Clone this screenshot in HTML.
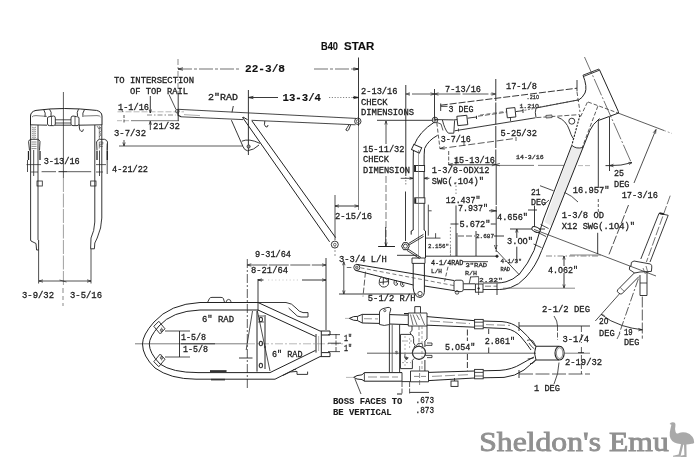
<!DOCTYPE html>
<html><head><meta charset="utf-8"><title>B40 STAR</title>
<style>
html,body{margin:0;padding:0;background:#fff;}
body{width:700px;height:459px;overflow:hidden;font-family:"Liberation Mono",monospace;}
svg{display:block;}
svg text{font-family:"Liberation Mono",monospace;}
</style></head><body>
<svg width="700" height="459" viewBox="0 0 700 459">
<defs><filter id="soft" x="0" y="0" width="700" height="459" filterUnits="userSpaceOnUse"><feGaussianBlur stdDeviation="0.38"/></filter></defs>
<rect x="0" y="0" width="700" height="459" fill="#fff"/>
<g filter="url(#soft)">
<g id="front">
<line x1="63.4" y1="92" x2="63.4" y2="178" stroke="#333" stroke-width="0.8"/>
<line x1="63.4" y1="178" x2="63.4" y2="286" stroke="#777" stroke-width="0.7" stroke-dasharray="14 1.5"/>
<line x1="63" y1="288" x2="63" y2="300" stroke="#555" stroke-width="0.7" stroke-dasharray="5 3"/>
<line x1="63" y1="303" x2="63" y2="306" stroke="#555" stroke-width="0.7"/>
<path d="M30.5,125 L30.5,116 Q30.6,111.6 36,110.4 Q63,106.6 96.5,110.4 Q101.8,111.6 102,116 L102,125" stroke="#222" stroke-width="1.0" fill="none" />
<path d="M30.5,124.8 L47,125.2 M55,125.2 L71,125.2 M79,125.2 L102,124.8" stroke="#222" stroke-width="0.9" fill="none" />
<path d="M32,117 Q33,115.5 36,115.6 L47,116.4 M84,116 L97,115.6 Q100,115.6 100.5,117" stroke="#444" stroke-width="0.7" fill="none" />
<path d="M43.7,109.6 Q46,113 45,117 M49.5,109.2 Q52,112 51,116" stroke="#222" stroke-width="0.9" fill="none" />
<path d="M84.5,109.6 Q82,113 83,117 M78.5,109.2 Q76.5,112 77.5,116" stroke="#222" stroke-width="0.9" fill="none" />
<path d="M47.5,118 Q47.5,116.6 50,116.6 L53.5,116 Q55.3,116 55.3,118 L55.3,124 Q55.3,125.6 53.5,125.6 L49.5,125.6 Q47.5,125.6 47.5,124 Z" stroke="#222" stroke-width="0.9" fill="none" />
<path d="M71,118 Q71,116 73,116 L76.5,116.6 Q79,116.6 79,118 L79,124 Q79,125.6 77,125.6 L73,125.6 Q71,125.6 71,124 Z" stroke="#222" stroke-width="0.9" fill="none" />
<line x1="51.5" y1="116.5" x2="51.5" y2="125.5" stroke="#222" stroke-width="0.7"/>
<line x1="75" y1="116.5" x2="75" y2="125.5" stroke="#222" stroke-width="0.7"/>
<line x1="55.3" y1="119.8" x2="71" y2="119.8" stroke="#222" stroke-width="0.8"/>
<line x1="55.3" y1="123" x2="71" y2="123" stroke="#222" stroke-width="0.8"/>
<path d="M79.3,124.5 Q79,130 81,131.3 Q83.2,132.2 83.4,129.3" stroke="#222" stroke-width="0.9" fill="none" />
<line x1="30.6" y1="125" x2="30.6" y2="240" stroke="#222" stroke-width="0.9"/>
<line x1="38" y1="125" x2="38" y2="240" stroke="#222" stroke-width="0.9"/>
<path d="M32,127 l2,1.2 l2,-1.2" stroke="#444" stroke-width="0.6" fill="none" />
<path d="M32,129 l2,1.2 l2,-1.2" stroke="#444" stroke-width="0.6" fill="none" />
<path d="M32,131 l2,1.2 l2,-1.2" stroke="#444" stroke-width="0.6" fill="none" />
<path d="M32,133 l2,1.2 l2,-1.2" stroke="#444" stroke-width="0.6" fill="none" />
<path d="M32,135 l2,1.2 l2,-1.2" stroke="#444" stroke-width="0.6" fill="none" />
<path d="M32,137 l2,1.2 l2,-1.2" stroke="#444" stroke-width="0.6" fill="none" />
<path d="M29.5,150.5 L28.6,141.5 Q29,139.6 31,139.3 L37.5,139.3 Q39.6,139.8 40,141.5 L39.5,150.5" stroke="#222" stroke-width="0.9" fill="none" />
<line x1="31.5" y1="142" x2="36.5" y2="142" stroke="#444" stroke-width="0.6"/>
<line x1="31.5" y1="144.2" x2="36.5" y2="144.2" stroke="#444" stroke-width="0.6"/>
<line x1="31.5" y1="146.4" x2="36.5" y2="146.4" stroke="#444" stroke-width="0.6"/>
<line x1="31.5" y1="148.6" x2="36.5" y2="148.6" stroke="#444" stroke-width="0.6"/>
<line x1="33.7" y1="150" x2="33.7" y2="176" stroke="#222" stroke-width="0.8"/>
<line x1="28.5" y1="151" x2="28.5" y2="160" stroke="#222" stroke-width="1.3"/>
<line x1="40" y1="151" x2="40" y2="160" stroke="#222" stroke-width="1.3"/>
<line x1="27.5" y1="160" x2="27.5" y2="172" stroke="#222" stroke-width="0.8"/>
<line x1="26.5" y1="164.6" x2="41" y2="164.6" stroke="#222" stroke-width="0.7"/>
<line x1="31" y1="172" x2="38" y2="172" stroke="#222" stroke-width="0.7"/>
<path d="M94.8,125 L94.8,222 Q94.4,231 91,238" stroke="#222" stroke-width="0.9" fill="none" />
<path d="M101.8,125 L101.8,218 Q101.6,228 97.2,238 L94.8,243" stroke="#222" stroke-width="0.9" fill="none" />
<path d="M97,126 l2,3 l1.5,-2 l1,4 l-2,1 l1.5,3 l-2,2" stroke="#444" stroke-width="0.6" fill="none" />
<line x1="99.3" y1="126" x2="99.3" y2="139" stroke="#444" stroke-width="0.6"/>
<path d="M97,150.5 L96.6,142 Q97.5,139.8 99.5,139.3 L104.5,139.3 Q107,140 107.5,142 L107.2,150.5" stroke="#222" stroke-width="0.9" fill="none" />
<path d="M99.3,142 h3.5 v2.2 h-3 v2.2 h3 M99.3,142 v6.5" stroke="#333" stroke-width="0.6" fill="none" />
<line x1="97" y1="151" x2="97" y2="160" stroke="#222" stroke-width="1.3"/>
<line x1="107.3" y1="151" x2="107.3" y2="160" stroke="#222" stroke-width="1.3"/>
<line x1="99.5" y1="150.5" x2="99.5" y2="176" stroke="#222" stroke-width="0.8"/>
<line x1="107.2" y1="143.6" x2="107.2" y2="174" stroke="#222" stroke-width="0.8"/>
<line x1="96" y1="164.6" x2="106" y2="164.6" stroke="#222" stroke-width="0.7"/>
<line x1="96" y1="172" x2="103" y2="172" stroke="#222" stroke-width="0.7"/>
<rect x="37" y="181" width="5.3" height="5" stroke="#222" stroke-width="0.8" fill="none"/>
<rect x="90.7" y="181" width="5.3" height="5" stroke="#222" stroke-width="0.8" fill="none"/>
<path d="M30.6,240 L31,241 L36,243.5 L36.6,250 L38.6,250 L38.6,240" stroke="#222" stroke-width="0.9" fill="none" />
<path d="M91,238 L90.6,248.8 L94.4,248.8 L94.8,243" stroke="#222" stroke-width="0.9" fill="none" />
<line x1="41.6" y1="171.7" x2="56" y2="171.7" stroke="#333" stroke-width="0.8"/>
<line x1="58.5" y1="171.7" x2="67" y2="171.7" stroke="#222" stroke-width="1.0"/>
<line x1="67" y1="171.7" x2="91.2" y2="171.7" stroke="#333" stroke-width="0.8"/>
<text x="43.7" y="163.6" font-size="8.8" textLength="36.0" lengthAdjust="spacingAndGlyphs" fill="#1c1c1c" stroke="#1c1c1c" stroke-width="0.28" >3-13/16</text>
<text x="112.0" y="172.1" font-size="8.8" textLength="36.0" lengthAdjust="spacingAndGlyphs" fill="#1c1c1c" stroke="#1c1c1c" stroke-width="0.28" >4-21/22</text>
<line x1="38.6" y1="250" x2="38.6" y2="283.5" stroke="#222" stroke-width="0.8"/>
<line x1="91" y1="249" x2="91" y2="283.5" stroke="#222" stroke-width="0.8"/>
<line x1="39" y1="281" x2="91" y2="281" stroke="#222" stroke-width="0.8"/>
<path d="M39,281 l4,-1.2 M39,281 l4,1.2 M91,281 l-4,-1.2 M91,281 l-4,1.2 M63,281 l-3.5,-1 M63,281 l3.5,1" stroke="#222" stroke-width="0.7" fill="none" />
<text x="22.0" y="298.1" font-size="8.8" textLength="32.0" lengthAdjust="spacingAndGlyphs" fill="#1c1c1c" stroke="#1c1c1c" stroke-width="0.28" >3-9/32</text>
<text x="70.0" y="298.1" font-size="8.8" textLength="32.0" lengthAdjust="spacingAndGlyphs" fill="#1c1c1c" stroke="#1c1c1c" stroke-width="0.28" >3-5/16</text>
</g>
<g id="subside">
<text x="321.0" y="49.8" font-size="10.6" textLength="17.0" lengthAdjust="spacingAndGlyphs" fill="#111" stroke="#111" stroke-width="0.12" font-weight="bold" style='font-family:"Liberation Sans", sans-serif' >B40</text>
<text x="344.0" y="49.8" font-size="10.6" textLength="30.4" lengthAdjust="spacingAndGlyphs" fill="#111" stroke="#111" stroke-width="0.12" font-weight="bold" style='font-family:"Liberation Sans", sans-serif' >STAR</text>
<text x="114.0" y="83.1" font-size="8.8" textLength="80.0" lengthAdjust="spacingAndGlyphs" fill="#1c1c1c" stroke="#1c1c1c" stroke-width="0.28" >TO INTERSECTION</text>
<text x="130.0" y="93.6" font-size="8.8" textLength="58.0" lengthAdjust="spacingAndGlyphs" fill="#1c1c1c" stroke="#1c1c1c" stroke-width="0.28" >OF TOP RAIL</text>
<text x="208.0" y="99.6" font-size="8.8" textLength="30.0" lengthAdjust="spacingAndGlyphs" fill="#1c1c1c" stroke="#1c1c1c" stroke-width="0.28" >2&quot;RAD</text>
<text x="118.0" y="110.1" font-size="8.8" textLength="31.0" lengthAdjust="spacingAndGlyphs" fill="#1c1c1c" stroke="#1c1c1c" stroke-width="0.28" >1-1/16</text>
<text x="153.0" y="128.6" font-size="8.8" textLength="27.0" lengthAdjust="spacingAndGlyphs" fill="#1c1c1c" stroke="#1c1c1c" stroke-width="0.28" >21/32</text>
<text x="114.0" y="136.1" font-size="8.8" textLength="32.0" lengthAdjust="spacingAndGlyphs" fill="#1c1c1c" stroke="#1c1c1c" stroke-width="0.28" >3-7/32</text>
<text x="245.0" y="72.3" font-size="11" textLength="40.0" lengthAdjust="spacingAndGlyphs" fill="#111" stroke="#111" stroke-width="0.12" font-weight="bold" >22-3/8</text>
<text x="282.5" y="100.8" font-size="11" textLength="38.5" lengthAdjust="spacingAndGlyphs" fill="#111" stroke="#111" stroke-width="0.12" font-weight="bold" >13-3/4</text>
<line x1="178" y1="59" x2="178" y2="93" stroke="#555" stroke-width="0.7" stroke-dasharray="6 2 2 2"/>
<line x1="178.2" y1="93" x2="178.2" y2="121" stroke="#222" stroke-width="0.9"/>
<line x1="178" y1="69" x2="241" y2="69" stroke="#333" stroke-width="0.7" stroke-dasharray="14 2 3 2"/>
<path d="M178,69 l5,-1.2 M178,69 l5,1.2" stroke="#222" stroke-width="0.8" fill="none" />
<line x1="314" y1="69" x2="358.5" y2="69" stroke="#333" stroke-width="0.7" stroke-dasharray="14 2 3 2"/>
<path d="M358.5,69 l-5,-1.2 M358.5,69 l-5,1.2" stroke="#222" stroke-width="0.8" fill="none" />
<line x1="358.5" y1="57.5" x2="358.5" y2="126" stroke="#222" stroke-width="0.9"/>
<line x1="358.5" y1="126" x2="358.5" y2="210" stroke="#666" stroke-width="0.8"/>
<line x1="248.4" y1="90" x2="248.4" y2="155" stroke="#222" stroke-width="0.9"/>
<line x1="248.4" y1="97.5" x2="278" y2="97.5" stroke="#222" stroke-width="0.9"/>
<path d="M248.4,97.5 l5,-1.2 M248.4,97.5 l5,1.2" stroke="#222" stroke-width="0.8" fill="none" />
<line x1="329" y1="97.5" x2="358.5" y2="97.5" stroke="#666" stroke-width="0.8" stroke-dasharray="1.2 1.6"/>
<path d="M358.5,97.5 l-5,-1.2 M358.5,97.5 l-5,1.2" stroke="#222" stroke-width="0.8" fill="none" />
<line x1="117.5" y1="111.8" x2="184" y2="111.8" stroke="#999" stroke-width="0.7" stroke-dasharray="6 2"/>
<line x1="147" y1="115" x2="175.5" y2="115" stroke="#555" stroke-width="0.7" stroke-dasharray="5 2 1.5 2"/>
<line x1="117" y1="120.7" x2="131" y2="120.7" stroke="#999" stroke-width="0.7" stroke-dasharray="5 2"/>
<line x1="131" y1="120.7" x2="179" y2="120.7" stroke="#555" stroke-width="0.8"/>
<line x1="150.3" y1="96" x2="150.3" y2="113" stroke="#222" stroke-width="0.9"/>
<path d="M150.3,113 l-1.2,-3.5 M150.3,113 l1.2,-3.5" stroke="#222" stroke-width="0.7" fill="none" />
<line x1="150.3" y1="121.2" x2="150.3" y2="130" stroke="#222" stroke-width="0.9"/>
<path d="M150.3,121.2 l-1.2,3.5 M150.3,121.2 l1.2,3.5" stroke="#222" stroke-width="0.7" fill="none" />
<line x1="124" y1="115" x2="124" y2="124" stroke="#222" stroke-width="0.8" stroke-dasharray="3 1.5"/>
<line x1="124" y1="140" x2="124" y2="146" stroke="#222" stroke-width="0.8"/>
<path d="M124,146 l-1.2,-3.5 M124,146 l1.2,-3.5" stroke="#222" stroke-width="0.7" fill="none" />
<line x1="119" y1="146" x2="243" y2="146" stroke="#333" stroke-width="0.8"/>
<line x1="121.5" y1="109.5" x2="123" y2="112" stroke="#222" stroke-width="0.7"/>
<line x1="169" y1="94.5" x2="176" y2="109.5" stroke="#222" stroke-width="0.8"/>
<line x1="233.3" y1="106" x2="232" y2="112.3" stroke="#222" stroke-width="0.9"/>
<path d="M178,109.3 L356,118.4" stroke="#333" stroke-width="0.9" fill="none" />
<path d="M181,116.8 L243,119.6 M251.5,120.3 L355.5,124.8" stroke="#333" stroke-width="0.9" fill="none" />
<path d="M178,109 L178,115.2 L181,116.8" stroke="#222" stroke-width="1.1" fill="none" />
<circle cx="177.3" cy="111.2" r="1.8" stroke="#333" stroke-width="0.8" fill="none"/>
<line x1="184" y1="114.6" x2="200" y2="115.6" stroke="#777" stroke-width="0.6"/>
<circle cx="357.8" cy="121.3" r="3.2" stroke="#222" stroke-width="0.9" fill="none"/>
<circle cx="357.8" cy="121.3" r="1.5" stroke="#444" stroke-width="0.8" fill="none"/>
<path d="M264.8,121 Q263.5,125.5 266,127 Q268,127.3 268,125" stroke="#222" stroke-width="0.9" fill="none" />
<path d="M349,124.8 Q347,128 345.8,130 Q347.8,131.5 348.6,130 L350.6,125" stroke="#222" stroke-width="0.9" fill="none" />
<path d="M243,117 L247.7,119.8 M242.4,117.2 L329.6,241.8 M252,121 L335.6,237.6" stroke="#222" stroke-width="1.0" fill="none" />
<circle cx="334.8" cy="244.6" r="3.5" stroke="#222" stroke-width="0.9" fill="none"/>
<circle cx="334.8" cy="244.6" r="1.3" stroke="#444" stroke-width="0.8" fill="none"/>
<path d="M231.4,120.2 L243,146.5 Q244,150 247.5,150.8 Q254,150 259,145" stroke="#222" stroke-width="0.9" fill="none" />
<path d="M241.8,141.2 Q249,138 260,143.4" stroke="#222" stroke-width="0.9" fill="none" />
<circle cx="248.6" cy="146.5" r="1.6" stroke="#333" stroke-width="0.8" fill="#888"/>
<line x1="335" y1="195" x2="335" y2="240" stroke="#222" stroke-width="0.8"/>
<line x1="335" y1="246" x2="335" y2="256" stroke="#666" stroke-width="0.7" stroke-dasharray="2 2"/>
<line x1="335" y1="206" x2="358.5" y2="206" stroke="#222" stroke-width="0.9"/>
<path d="M335,206 l4,-1.2 M335,206 l4,1.2 M358.5,206 l-4,-1.2 M358.5,206 l-4,1.2" stroke="#222" stroke-width="0.7" fill="none" />
<text x="335.0" y="218.6" font-size="8.8" textLength="37.0" lengthAdjust="spacingAndGlyphs" fill="#1c1c1c" stroke="#1c1c1c" stroke-width="0.28" >2-15/16</text>
<text x="361.0" y="93.6" font-size="8.8" textLength="36.5" lengthAdjust="spacingAndGlyphs" fill="#1c1c1c" stroke="#1c1c1c" stroke-width="0.28" >2-13/16</text>
<text x="361.0" y="104.6" font-size="8.8" textLength="26.5" lengthAdjust="spacingAndGlyphs" fill="#1c1c1c" stroke="#1c1c1c" stroke-width="0.28" >CHECK</text>
<text x="361.0" y="115.1" font-size="8.8" textLength="53.0" lengthAdjust="spacingAndGlyphs" fill="#1c1c1c" stroke="#1c1c1c" stroke-width="0.28" >DIMENSIONS</text>
<text x="363.0" y="151.6" font-size="8.8" textLength="41.5" lengthAdjust="spacingAndGlyphs" fill="#1c1c1c" stroke="#1c1c1c" stroke-width="0.28" >15-11/32</text>
<text x="363.0" y="162.1" font-size="8.8" textLength="26.0" lengthAdjust="spacingAndGlyphs" fill="#1c1c1c" stroke="#1c1c1c" stroke-width="0.28" >CHECK</text>
<text x="363.0" y="172.6" font-size="8.8" textLength="47.0" lengthAdjust="spacingAndGlyphs" fill="#1c1c1c" stroke="#1c1c1c" stroke-width="0.28" >DIMENSION</text>
<line x1="353" y1="69" x2="358.5" y2="69" stroke="#222" stroke-width="1.0"/>
<line x1="353" y1="97.5" x2="358.5" y2="97.5" stroke="#222" stroke-width="1.0"/>
<line x1="377" y1="120.3" x2="432" y2="120.3" stroke="#222" stroke-width="0.9"/>
<line x1="386" y1="121" x2="386" y2="144" stroke="#222" stroke-width="0.8"/>
<path d="M386,121 l-1.2,3.5 M386,121 l1.2,3.5" stroke="#222" stroke-width="0.7" fill="none" />
<line x1="386" y1="176" x2="386" y2="246" stroke="#444" stroke-width="0.7" stroke-dasharray="7 2"/>
<path d="M386,246 l-1.2,-3.5 M386,246 l1.2,-3.5" stroke="#222" stroke-width="0.7" fill="none" />
<line x1="378" y1="246.5" x2="395" y2="246.5" stroke="#222" stroke-width="0.9"/>
</g>
<g id="main">
<line x1="405.8" y1="85" x2="405.8" y2="176" stroke="#222" stroke-width="0.9"/>
<line x1="405.8" y1="177" x2="405.8" y2="186" stroke="#666" stroke-width="0.8" stroke-dasharray="1.5 1.5"/>
<line x1="405.5" y1="191.5" x2="405.5" y2="241" stroke="#222" stroke-width="0.9"/>
<line x1="408" y1="94" x2="410" y2="94" stroke="#333" stroke-width="0.8"/>
<line x1="412" y1="94" x2="434.5" y2="94" stroke="#333" stroke-width="0.8"/>
<path d="M405.8,94 l4,-1.2 M405.8,94 l4,1.2 M434.5,94 l-4,-1.2 M434.5,94 l-4,1.2" stroke="#222" stroke-width="0.7" fill="none" />
<line x1="434.5" y1="89" x2="434.5" y2="120" stroke="#222" stroke-width="0.9"/>
<line x1="434.5" y1="94" x2="495.5" y2="94" stroke="#333" stroke-width="0.8" stroke-dasharray="26 2"/>
<path d="M434.5,94 l4,-1.2 M434.5,94 l4,1.2 M495.5,94 l-4,-1.2 M495.5,94 l-4,1.2" stroke="#222" stroke-width="0.7" fill="none" />
<text x="445.0" y="91.6" font-size="8.8" textLength="36.0" lengthAdjust="spacingAndGlyphs" fill="#1c1c1c" stroke="#1c1c1c" stroke-width="0.28" >7-13/16</text>
<line x1="495.8" y1="79" x2="495.8" y2="165" stroke="#222" stroke-width="0.9" stroke-dasharray="22 1.5"/>
<line x1="496.2" y1="165" x2="496.2" y2="252" stroke="#222" stroke-width="0.9" stroke-dasharray="40 1.2"/>
<text x="506.0" y="88.8" font-size="9.4" textLength="31.0" lengthAdjust="spacingAndGlyphs" fill="#1c1c1c" stroke="#1c1c1c" stroke-width="0.28" >17-1/8</text>
<line x1="440.7" y1="105.2" x2="577" y2="88.2" stroke="#222" stroke-width="0.9" stroke-dasharray="7 2"/>
<line x1="577" y1="80" x2="577" y2="91.4" stroke="#222" stroke-width="0.9"/>
<line x1="577" y1="92" x2="580" y2="112" stroke="#333" stroke-width="0.8" stroke-dasharray="4 2"/>
<text x="526.6" y="99.0" font-size="5.6" textLength="12.4" lengthAdjust="spacingAndGlyphs" fill="#333" stroke="#333" stroke-width="0.28" >.21O</text>
<text x="519.4" y="107.5" font-size="5.6" textLength="19.6" lengthAdjust="spacingAndGlyphs" fill="#333" stroke="#333" stroke-width="0.28" >1.21O</text>
<line x1="440.7" y1="103.5" x2="440.7" y2="111" stroke="#222" stroke-width="0.9"/>
<line x1="441" y1="106.3" x2="447.5" y2="106.3" stroke="#222" stroke-width="0.9"/>
<text x="448.5" y="111.6" font-size="8.8" textLength="25.0" lengthAdjust="spacingAndGlyphs" fill="#1c1c1c" stroke="#1c1c1c" stroke-width="0.28" >3 DEG</text>
<line x1="436.8" y1="122.7" x2="440" y2="149" stroke="#333" stroke-width="0.8" stroke-dasharray="4 2"/>
<line x1="440" y1="148.6" x2="514" y2="138.6" stroke="#333" stroke-width="0.8" stroke-dasharray="7 2.5"/>
<path d="M440,148.6 l4.5,-2 M440,148.6 l4.8,0.6" stroke="#222" stroke-width="0.7" fill="none" />
<text x="440.7" y="141.6" font-size="8.8" textLength="30.1" lengthAdjust="spacingAndGlyphs" fill="#1c1c1c" stroke="#1c1c1c" stroke-width="0.28" >3-7/16</text>
<text x="500.5" y="135.6" font-size="8.8" textLength="36.5" lengthAdjust="spacingAndGlyphs" fill="#1c1c1c" stroke="#1c1c1c" stroke-width="0.28" >5-25/32</text>
<line x1="516" y1="137" x2="516" y2="141" stroke="#222" stroke-width="0.7"/>
<line x1="464" y1="141" x2="464" y2="146" stroke="#222" stroke-width="0.7"/>
<line x1="458.5" y1="128.5" x2="458.5" y2="131.5" stroke="#222" stroke-width="0.7"/>
<line x1="448.7" y1="151" x2="448.7" y2="165" stroke="#333" stroke-width="0.8" stroke-dasharray="4 1.5"/>
<line x1="448.7" y1="164.8" x2="496" y2="164.8" stroke="#222" stroke-width="0.9"/>
<line x1="496" y1="165.4" x2="534" y2="165.4" stroke="#555" stroke-width="0.8"/>
<line x1="538" y1="165.4" x2="564" y2="165.4" stroke="#666" stroke-width="0.8"/>
<line x1="578" y1="165.6" x2="591" y2="165.6" stroke="#999" stroke-width="0.7" stroke-dasharray="5 2"/>
<line x1="456" y1="158" x2="456" y2="164.6" stroke="#222" stroke-width="0.9"/>
<text x="454.0" y="162.6" font-size="8.8" textLength="41.0" lengthAdjust="spacingAndGlyphs" fill="#1c1c1c" stroke="#1c1c1c" stroke-width="0.28" >15-13/16</text>
<text x="516.0" y="158.7" font-size="5.6" textLength="27.7" lengthAdjust="spacingAndGlyphs" fill="#333" stroke="#333" stroke-width="0.28" >14-3/16</text>
<path d="M448.7,164.6 l4,-1.2 M448.7,164.6 l4,1.2 M495.8,164.6 l-4,-1.2 M495.8,164.6 l-4,1.2 M495.8,164.6 l4,-1.2 M495.8,164.6 l4,1.2" stroke="#222" stroke-width="0.7" fill="none" />
<circle cx="435" cy="120" r="2.8" stroke="#222" stroke-width="0.9" fill="none"/>
<circle cx="435" cy="120" r="1.2" stroke="#444" stroke-width="0.7" fill="#999"/>
<path d="M434.5,122 Q419,132 414.2,145 Q413,152 413.2,160 L413.2,230 L411.2,231 L411.2,234.6" stroke="#222" stroke-width="1.0" fill="none" />
<path d="M437.6,135.3 Q428,140.5 424.6,148.5 Q424,154 424.1,160 L424.1,230 L425.5,231 L425.5,258" stroke="#222" stroke-width="1.0" fill="none" />
<rect x="412.3" y="145.8" width="8.6" height="5.8" stroke="#222" stroke-width="0.9" fill="#fff" transform="rotate(24 416.6 148.7)"/>
<rect x="414.5" y="165.5" width="10.1" height="6" stroke="#222" stroke-width="0.9" fill="#fff"/>
<line x1="415.4" y1="166" x2="415.4" y2="171" stroke="#222" stroke-width="1.2"/>
<rect x="414.7" y="197.8" width="10.2" height="5.5" stroke="#222" stroke-width="0.9" fill="#fff"/>
<line x1="415.6" y1="198.3" x2="415.6" y2="203" stroke="#222" stroke-width="1.2"/>
<line x1="418.5" y1="150" x2="418.5" y2="258" stroke="#666" stroke-width="0.6"/>
<path d="M400.7,178.3 L413,178.3 M424.2,178.3 L429.4,178.3 M413,178.3 l-3.5,-1 M413,178.3 l-3.5,1 M424.2,178.3 l3.5,-1 M424.2,178.3 l3.5,1" stroke="#222" stroke-width="0.8" fill="none" />
<path d="M434.5,119.6 L453.6,119.9 L457.2,119.6 M442.4,120 Q443.6,125 444.8,127.6 Q446.4,131.6 448.4,133.2 L453.8,133.2 L454.6,120.4" stroke="#222" stroke-width="0.9" fill="none" />
<path d="M437,122.5 L441,124 L443,130.5" stroke="#333" stroke-width="0.8" fill="none" />
<rect x="457.3" y="115.8" width="10" height="9.4" stroke="#222" stroke-width="0.9" fill="none" transform="rotate(-6 462 120.5)"/>
<line x1="467.6" y1="118.2" x2="476.5" y2="117" stroke="#222" stroke-width="0.9"/>
<line x1="476.5" y1="115.8" x2="476.5" y2="119" stroke="#222" stroke-width="0.9"/>
<line x1="478" y1="116.2" x2="506.5" y2="112.2" stroke="#333" stroke-width="0.8" stroke-dasharray="5 2"/>
<line x1="480" y1="115" x2="506.5" y2="111.2" stroke="#555" stroke-width="0.7" stroke-dasharray="4 2.5"/>
<rect x="506.8" y="108" width="8.6" height="9.4" stroke="#222" stroke-width="0.9" fill="none" transform="rotate(-6 511 112.7)"/>
<line x1="510.5" y1="117.6" x2="510.5" y2="121" stroke="#222" stroke-width="0.8"/>
<line x1="515.8" y1="111.6" x2="523" y2="110.6" stroke="#222" stroke-width="0.9"/>
<line x1="523" y1="109" x2="523" y2="113" stroke="#222" stroke-width="0.9"/>
<line x1="524.5" y1="110.3" x2="535" y2="108.4" stroke="#444" stroke-width="0.8" stroke-dasharray="2 1.5"/>
<path d="M454.6,130.8 L535.4,117.8" stroke="#222" stroke-width="0.9" fill="none" />
<path d="M578,100 L536,108 Q534.6,112 536,117.6" stroke="#222" stroke-width="0.9" fill="none" />
<line x1="536" y1="107.8" x2="578" y2="100" stroke="#444" stroke-width="0.8" stroke-dasharray="2 1.4"/>
<line x1="536.4" y1="117.6" x2="579.6" y2="114.6" stroke="#333" stroke-width="0.8" stroke-dasharray="5 2"/>
<rect x="546" y="115.2" width="6" height="2.6" stroke="#333" stroke-width="0.7" fill="#ccc" transform="rotate(-5 549 116.5)"/>
<path d="M583,75.2 L599,69 M583.6,76.4 L599.5,70.2" stroke="#222" stroke-width="0.9" fill="none" />
<path d="M583,75.2 Q587.6,87 585,93 Q582.5,98 578,100.5" stroke="#222" stroke-width="1.0" fill="none" />
<path d="M599.3,69.4 L618.3,111.4" stroke="#222" stroke-width="1.0" fill="none" />
<path d="M618.3,111.4 L618.6,113 L609.5,116.4 L598.6,120.4" stroke="#222" stroke-width="1.0" fill="none" />
<line x1="584.5" y1="57" x2="631" y2="162" stroke="#333" stroke-width="0.7" stroke-dasharray="18 2 2 2"/>
<line x1="588" y1="102" x2="618" y2="113" stroke="#333" stroke-width="0.8" stroke-dasharray="4 2"/>
<line x1="618" y1="113" x2="664" y2="130.5" stroke="#333" stroke-width="0.8"/>
<line x1="664" y1="130.5" x2="672" y2="133.5" stroke="#777" stroke-width="0.7" stroke-dasharray="2 2"/>
<line x1="587.4" y1="102.2" x2="580.4" y2="117" stroke="#333" stroke-width="0.8" stroke-dasharray="4 2"/>
<line x1="580" y1="115" x2="571.8" y2="145.3" stroke="#222" stroke-width="1.1" stroke-dasharray="2.2 1.2"/>
<line x1="597.9" y1="106.1" x2="582.4" y2="147" stroke="#333" stroke-width="0.8" stroke-dasharray="4 2"/>
<path d="M557.4,117.2 Q566,120 569.4,130 Q571,135 573,138.4" stroke="#222" stroke-width="0.9" fill="none" />
<circle cx="571.8" cy="121.2" r="3" stroke="#222" stroke-width="0.9" fill="none"/>
<line x1="545" y1="118.2" x2="579.5" y2="114.6" stroke="#222" stroke-width="0.0"/>
<path d="M583.2,147.6 L551.5,226 L544.5,222 L572,146 Z" stroke="none" stroke-width="0" fill="#ececec" />
<path d="M599.5,118.5 Q592,125 589.8,130.5 L552.5,224" stroke="#222" stroke-width="1.0" fill="none" />
<path d="M571.8,145.3 L543.5,219" stroke="#222" stroke-width="1.0" fill="none" />
<path d="M571.8,145.3 Q576,149.4 583.2,147.4" stroke="#222" stroke-width="0.9" fill="none" />
<line x1="598.3" y1="120" x2="598.3" y2="188" stroke="#222" stroke-width="0.9"/>
<line x1="598.3" y1="199" x2="598.3" y2="212" stroke="#333" stroke-width="0.8" stroke-dasharray="3 2"/>
<line x1="609.5" y1="117" x2="609.5" y2="171" stroke="#222" stroke-width="0.9"/>
<path d="M609.5,165.6 Q621,166 632,162.6" stroke="#222" stroke-width="0.9" fill="none" />
<path d="M609.5,165.6 l4,-1.4 M609.5,165.6 l4,1.2 M632,162.6 l-3.6,-0.2 M632,162.6 l-3,2" stroke="#222" stroke-width="0.7" fill="none" />
<line x1="605.5" y1="165.6" x2="609.5" y2="165.6" stroke="#222" stroke-width="0.9"/>
<text x="614.0" y="175.6" font-size="8.8" textLength="10.0" lengthAdjust="spacingAndGlyphs" fill="#1c1c1c" stroke="#1c1c1c" stroke-width="0.28" >25</text>
<text x="614.0" y="186.6" font-size="8.8" textLength="15.5" lengthAdjust="spacingAndGlyphs" fill="#1c1c1c" stroke="#1c1c1c" stroke-width="0.28" >DEG</text>
<text x="572.8" y="193.1" font-size="8.8" textLength="36.7" lengthAdjust="spacingAndGlyphs" fill="#1c1c1c" stroke="#1c1c1c" stroke-width="0.28" >16.957&quot;</text>
<text x="621.7" y="198.1" font-size="8.8" textLength="36.3" lengthAdjust="spacingAndGlyphs" fill="#1c1c1c" stroke="#1c1c1c" stroke-width="0.28" >17-3/16</text>
<text x="561.7" y="218.1" font-size="8.8" textLength="42.3" lengthAdjust="spacingAndGlyphs" fill="#1c1c1c" stroke="#1c1c1c" stroke-width="0.28" >1-3/8 OD</text>
<text x="561.7" y="229.3" font-size="8.8" textLength="73.3" lengthAdjust="spacingAndGlyphs" fill="#1c1c1c" stroke="#1c1c1c" stroke-width="0.28" >X12 SWG(.1O4)&quot;</text>
<line x1="656" y1="129.5" x2="634" y2="183" stroke="#222" stroke-width="0.8"/>
<path d="M656,129.5 l-0.4,4.2 M656,129.5 l-2.8,3.2" stroke="#222" stroke-width="0.7" fill="none" />
<line x1="628.5" y1="205" x2="608.4" y2="256" stroke="#222" stroke-width="0.8" stroke-dasharray="9 2"/>
<path d="M540,185.7 L553.6,190.8 M564.5,192.4 Q572,195.6 578,202" stroke="#222" stroke-width="0.8" fill="none" />
<text x="531.0" y="194.6" font-size="8.8" textLength="9.5" lengthAdjust="spacingAndGlyphs" fill="#1c1c1c" stroke="#1c1c1c" stroke-width="0.28" >21</text>
<text x="531.0" y="204.6" font-size="8.8" textLength="15.0" lengthAdjust="spacingAndGlyphs" fill="#1c1c1c" stroke="#1c1c1c" stroke-width="0.28" >DEG</text>
<line x1="543" y1="205.5" x2="549" y2="200" stroke="#222" stroke-width="0.8"/>
<text x="431.7" y="173.3" font-size="8.8" textLength="57.7" lengthAdjust="spacingAndGlyphs" fill="#1c1c1c" stroke="#1c1c1c" stroke-width="0.28" >1-3/8-ODX12</text>
<text x="431.7" y="184.1" font-size="8.8" textLength="52.3" lengthAdjust="spacingAndGlyphs" fill="#1c1c1c" stroke="#1c1c1c" stroke-width="0.28" >SWG(.1O4)&quot;</text>
<text x="445.7" y="202.6" font-size="8.8" textLength="34.8" lengthAdjust="spacingAndGlyphs" fill="#1c1c1c" stroke="#1c1c1c" stroke-width="0.28" >12.437&quot;</text>
<text x="458.0" y="210.6" font-size="8.8" textLength="30.0" lengthAdjust="spacingAndGlyphs" fill="#1c1c1c" stroke="#1c1c1c" stroke-width="0.28" >7.937&quot;</text>
<text x="459.4" y="226.6" font-size="8.8" textLength="31.1" lengthAdjust="spacingAndGlyphs" fill="#1c1c1c" stroke="#1c1c1c" stroke-width="0.28" >5.672&quot;</text>
<text x="497.0" y="219.6" font-size="8.8" textLength="31.0" lengthAdjust="spacingAndGlyphs" fill="#1c1c1c" stroke="#1c1c1c" stroke-width="0.28" >4.656&quot;</text>
<text x="476.0" y="237.7" font-size="5.6" textLength="18.0" lengthAdjust="spacingAndGlyphs" fill="#333" stroke="#333" stroke-width="0.28" >2.687</text>
<text x="507.0" y="244.4" font-size="8.8" textLength="26.0" lengthAdjust="spacingAndGlyphs" fill="#1c1c1c" stroke="#1c1c1c" stroke-width="0.28" >3.OO&quot;</text>
<text x="428.0" y="247.7" font-size="5.6" textLength="21.0" lengthAdjust="spacingAndGlyphs" fill="#333" stroke="#333" stroke-width="0.28" >2.156&quot;</text>
<line x1="456" y1="182" x2="456" y2="195.5" stroke="#555" stroke-width="0.7" stroke-dasharray="1.5 2"/>
<line x1="456" y1="205.5" x2="456" y2="256" stroke="#222" stroke-width="0.9"/>
<line x1="428.3" y1="204.6" x2="428.3" y2="235.6" stroke="#222" stroke-width="0.8"/>
<line x1="428.5" y1="210.8" x2="431.6" y2="210.8" stroke="#222" stroke-width="0.8"/>
<path d="M495.8,210.8 l-5,-1.2 M495.8,210.8 l-5,1.2" stroke="#222" stroke-width="0.7" fill="none" />
<line x1="489" y1="210.8" x2="495.8" y2="210.8" stroke="#222" stroke-width="0.9"/>
<line x1="450.5" y1="224" x2="458.5" y2="224" stroke="#222" stroke-width="0.9"/>
<line x1="490.8" y1="224" x2="495.8" y2="224" stroke="#222" stroke-width="0.9"/>
<line x1="476" y1="231" x2="476" y2="256" stroke="#222" stroke-width="0.9"/>
<line x1="458" y1="236" x2="475" y2="236" stroke="#333" stroke-width="0.8" stroke-dasharray="6 2"/>
<line x1="494" y1="236" x2="504" y2="236" stroke="#222" stroke-width="0.9"/>
<line x1="450.5" y1="246.7" x2="450.5" y2="256" stroke="#555" stroke-width="0.7" stroke-dasharray="1.5 2"/>
<path d="M495.8,249 l-1.3,-4 M495.8,249 l1.3,-4" stroke="#222" stroke-width="0.8" fill="none" />
<line x1="425.5" y1="256.2" x2="497" y2="256.2" stroke="#222" stroke-width="0.9"/>
<circle cx="497" cy="256.2" r="1.2" stroke="#222" stroke-width="0.6" fill="#222"/>
<line x1="495.8" y1="211" x2="497" y2="211" stroke="#222" stroke-width="0.9"/>
<line x1="528" y1="210" x2="537" y2="210" stroke="#222" stroke-width="0.9"/>
<line x1="534.5" y1="205.5" x2="534.5" y2="226.7" stroke="#222" stroke-width="0.9"/>
<line x1="510" y1="229" x2="545" y2="229" stroke="#222" stroke-width="0.9"/>
<line x1="516.8" y1="229" x2="516.8" y2="238" stroke="#222" stroke-width="0.9"/>
<line x1="516.8" y1="246.7" x2="516.8" y2="262" stroke="#222" stroke-width="0.9"/>
<path d="M516.8,229 l-1.2,3.5 M516.8,229 l1.2,3.5" stroke="#222" stroke-width="0.7" fill="none" />
<path d="M412,258 L412,263.4 M425,258 L425,263.4 M412,258 L425,258 M412,263.4 L425,263.4" stroke="#222" stroke-width="0.9" fill="none" />
<line x1="413.2" y1="263.4" x2="413.2" y2="288" stroke="#222" stroke-width="1.0"/>
<line x1="424.4" y1="263.4" x2="424.4" y2="289" stroke="#222" stroke-width="1.0"/>
<path d="M413.2,288 Q414,297 420,297.4 Q425,297 424.4,289" stroke="#222" stroke-width="1.0" fill="none" />
<circle cx="420" cy="293.6" r="2.2" stroke="#222" stroke-width="0.8" fill="none"/>
<path d="M401.6,246.2 L403.5,242.7 L407.4,242.7 L409.3,246.2 L407.4,249.7 L403.5,249.7 Z" stroke="#222" stroke-width="1.0" fill="none" />
<circle cx="405.4" cy="246.2" r="2" stroke="#222" stroke-width="0.8" fill="none"/>
<path d="M408.4,243.6 L423.4,234.4 M409,245 L423.6,236.4" stroke="#222" stroke-width="0.9" fill="none" />
<path d="M408,249 L421,257.6 M407,250.4 L419.6,258.6" stroke="#222" stroke-width="0.9" fill="none" />
<line x1="397" y1="255.3" x2="417" y2="255.3" stroke="#222" stroke-width="0.9"/>
<line x1="379" y1="246.5" x2="394.5" y2="246.5" stroke="#222" stroke-width="0.9"/>
<path d="M425.8,238.1 H440.5 M435.6,233.2 V238.1" stroke="#222" stroke-width="0.8" fill="none" />
<path d="M356.6,264.4 L454,280.5 M355.4,270.4 L413.3,285 M424.6,286 L454,290.6" stroke="#222" stroke-width="1.0" fill="none" />
<line x1="346.8" y1="267.5" x2="351.4" y2="267.5" stroke="#444" stroke-width="0.8"/>
<line x1="360.5" y1="267.8" x2="454" y2="285.6" stroke="#444" stroke-width="0.7" stroke-dasharray="4 2.5"/>
<circle cx="356.8" cy="267.4" r="3" stroke="#222" stroke-width="0.9" fill="none"/>
<circle cx="356.8" cy="267.4" r="1.3" stroke="#444" stroke-width="0.7" fill="#aaa"/>
<rect x="454" y="280.2" width="9.2" height="11.4" rx="2" stroke="#222" stroke-width="0.9" fill="#fff"/>
<circle cx="457" cy="292.4" r="1.8" stroke="#222" stroke-width="0.8" fill="none"/>
<line x1="463.4" y1="283.8" x2="475" y2="283.8" stroke="#222" stroke-width="0.9"/>
<line x1="463.4" y1="289.6" x2="475" y2="289.6" stroke="#222" stroke-width="0.9"/>
<rect x="475.4" y="284" width="7.6" height="8.2" stroke="#222" stroke-width="0.9" fill="#fff"/>
<path d="M470,277 L478.6,276.6" stroke="#222" stroke-width="0.8" fill="none" />
<line x1="478.6" y1="276.6" x2="478.6" y2="295" stroke="#333" stroke-width="0.8"/>
<circle cx="478.6" cy="288.4" r="0.9" stroke="#222" stroke-width="0.5" fill="#222"/>
<line x1="483" y1="283" x2="497" y2="283" stroke="#222" stroke-width="0.9"/>
<line x1="483" y1="289.5" x2="499.5" y2="289.5" stroke="#222" stroke-width="0.9"/>
<line x1="485" y1="286.2" x2="497" y2="286.2" stroke="#444" stroke-width="0.7" stroke-dasharray="6 2.5"/>
<line x1="497" y1="283.5" x2="497" y2="295" stroke="#222" stroke-width="0.9"/>
<path d="M381.6,276.6 Q378.6,279 379.2,283.4 Q380.4,287.4 384.6,287 Q388.8,286.2 388.6,282 L388.4,278 M383.4,277 L383.2,284.6 M380,282.4 L388.4,281.6 M384.6,278.4 Q387.4,278 387.4,280.6" stroke="#222" stroke-width="0.9" fill="none" />
<path d="M394.6,280 Q393,284 395.6,285.4 Q397.8,285.6 397.6,283 M396.4,280.4 L396.2,283.4 M401,281.4 Q399.6,285.6 402.2,286.8 Q404.2,287 404,284.6 M402.8,282 L402.6,285" stroke="#222" stroke-width="0.9" fill="none" />
<text x="339.0" y="261.6" font-size="8.8" textLength="47.7" lengthAdjust="spacingAndGlyphs" fill="#1c1c1c" stroke="#1c1c1c" stroke-width="0.28" >3-3/4 L/H</text>
<line x1="343.8" y1="261.7" x2="343.8" y2="294" stroke="#222" stroke-width="0.8"/>
<path d="M343.8,261.7 l-1.2,3.5 M343.8,261.7 l1.2,3.5 M343.8,294 l-1.2,-3.5 M343.8,294 l1.2,-3.5" stroke="#222" stroke-width="0.7" fill="none" />
<line x1="339" y1="294" x2="416.7" y2="294" stroke="#222" stroke-width="0.9"/>
<line x1="365.5" y1="271.7" x2="363" y2="296.5" stroke="#333" stroke-width="0.8" stroke-dasharray="6 2"/>
<text x="367.8" y="301.4" font-size="8.8" textLength="47.7" lengthAdjust="spacingAndGlyphs" fill="#1c1c1c" stroke="#1c1c1c" stroke-width="0.28" >5-1/2 R/H</text>
<line x1="379" y1="246.5" x2="394.5" y2="246.5" stroke="#222" stroke-width="0.9"/>
<line x1="385.6" y1="227" x2="385.6" y2="246.5" stroke="#222" stroke-width="0.8"/>
<text x="431.0" y="265.3" font-size="6.6" textLength="32.3" lengthAdjust="spacingAndGlyphs" fill="#222" stroke="#222" stroke-width="0.28" >4-1/4RAD</text>
<text x="431.0" y="273.1" font-size="5.6" textLength="11.0" lengthAdjust="spacingAndGlyphs" fill="#333" stroke="#333" stroke-width="0.28" >L/H</text>
<text x="465.5" y="266.9" font-size="5.8" textLength="21.5" lengthAdjust="spacingAndGlyphs" fill="#333" stroke="#333" stroke-width="0.28" >3&quot;RAD</text>
<line x1="463" y1="261.7" x2="488" y2="261.7" stroke="#222" stroke-width="0.8"/>
<text x="465.0" y="274.7" font-size="5.8" textLength="12.0" lengthAdjust="spacingAndGlyphs" fill="#333" stroke="#333" stroke-width="0.28" >R/H</text>
<line x1="448" y1="266.7" x2="444.6" y2="281.4" stroke="#333" stroke-width="0.8" stroke-dasharray="4 2"/>
<line x1="450.4" y1="227" x2="450.4" y2="256" stroke="#555" stroke-width="0.7" stroke-dasharray="1.5 2"/>
<line x1="457" y1="233" x2="457" y2="256" stroke="#222" stroke-width="0.8"/>
<line x1="470.6" y1="277" x2="469.2" y2="283.6" stroke="#222" stroke-width="0.8"/>
<text x="500.5" y="263.3" font-size="5.4" textLength="21.2" lengthAdjust="spacingAndGlyphs" fill="#333" stroke="#333" stroke-width="0.28" >4-1/3&quot;</text>
<text x="500.5" y="270.5" font-size="5.0" textLength="9.5" lengthAdjust="spacingAndGlyphs" fill="#333" stroke="#333" stroke-width="0.28" >RAD</text>
<text x="479.0" y="281.7" font-size="5.6" textLength="23.8" lengthAdjust="spacingAndGlyphs" fill="#333" stroke="#333" stroke-width="0.28" >2.32&quot;</text>
<line x1="496.4" y1="250.5" x2="519.5" y2="275" stroke="#222" stroke-width="0.8"/>
<path d="M552.5,224 L541.7,250.5 Q536,266 526,277 Q519,285 510.5,287.6 Q505,289.4 499.5,289.5" stroke="#222" stroke-width="1.0" fill="none" />
<path d="M543.5,219 L534,250.5 Q528,264 519.5,274 Q513,280 506,281.8 Q501,283 497,283" stroke="#222" stroke-width="1.0" fill="none" />
<ellipse cx="536" cy="229.6" rx="4.4" ry="2.4" stroke="#222" stroke-width="0.9" fill="#fff" transform="rotate(25 536 229.6)"/>
<path d="M538,232.5 L546,236.5 M540.6,224.5 L548.6,228.5" stroke="#222" stroke-width="0.8" fill="none" />
<path d="M533.5,244 L541.5,247.6" stroke="#222" stroke-width="0.8" fill="none" />
<line x1="534" y1="229.4" x2="656" y2="276" stroke="#333" stroke-width="0.8"/>
<line x1="546" y1="256" x2="599.5" y2="256" stroke="#555" stroke-width="0.7" stroke-dasharray="6 2 1.5 2"/>
<line x1="564" y1="256" x2="564" y2="266" stroke="#222" stroke-width="0.9"/>
<line x1="564" y1="273" x2="564" y2="288" stroke="#222" stroke-width="0.9"/>
<path d="M564,256 l-1.2,3.5 M564,256 l1.2,3.5 M564,288 l-1.2,-3.5 M564,288 l1.2,-3.5" stroke="#222" stroke-width="0.7" fill="none" />
<line x1="503" y1="288.2" x2="575" y2="288.2" stroke="#555" stroke-width="0.7"/>
<text x="548.0" y="272.6" font-size="8.8" textLength="30.0" lengthAdjust="spacingAndGlyphs" fill="#1c1c1c" stroke="#1c1c1c" stroke-width="0.28" >4.O62&quot;</text>
<line x1="597.7" y1="232.8" x2="597.7" y2="254" stroke="#222" stroke-width="0.9"/>
<line x1="570" y1="255" x2="601" y2="255" stroke="#666" stroke-width="0.8"/>
<path d="M659,213.4 L640.8,259 M668.2,215.3 L650,262" stroke="#222" stroke-width="0.9" fill="none" />
<path d="M659,213.4 L668.2,215.3" stroke="#222" stroke-width="0.9" fill="none" />
<path d="M659.4,213.2 L664,214.2" stroke="#222" stroke-width="1.8" fill="none" />
<line x1="670.2" y1="195.7" x2="646.4" y2="262" stroke="#333" stroke-width="0.7" stroke-dasharray="9 2"/>
<path d="M631.4,262.4 L634,261 L650.4,264 Q652,265 651.8,267 L651.4,271.4 L640,272 L634.6,273 L631,270.6 L629.4,269.6 L629.6,266.6 L631,266 Z" stroke="#222" stroke-width="0.9" fill="none" />
<path d="M634.7,272.6 L617.6,289.9 M638.9,276.6 L621.8,293.9" stroke="#222" stroke-width="0.9" fill="none" />
<path d="M617.6,289.9 Q616.6,291.4 618.4,292.8 Q620.4,294.6 621.8,293.9" stroke="#222" stroke-width="0.9" fill="none" />
<path d="M620.4,287.4 Q622.6,290.6 624.6,291.4" stroke="#444" stroke-width="0.7" fill="none" />
<path d="M640,275 L640,295.5 L647,295.5 L647,272" stroke="#222" stroke-width="0.9" fill="none" />
<line x1="640" y1="283" x2="647" y2="283" stroke="#222" stroke-width="0.8"/>
<path d="M643,268 L645.4,274 M646,266 L648,273" stroke="#444" stroke-width="0.7" fill="none" />
<line x1="656" y1="196" x2="672" y2="155" stroke="#222" stroke-width="0.0"/>
<line x1="619.6" y1="293.7" x2="595.3" y2="321" stroke="#222" stroke-width="0.8"/>
<line x1="638.4" y1="278.7" x2="618.7" y2="335" stroke="#333" stroke-width="0.8" stroke-dasharray="9 2 2 2"/>
<line x1="642.3" y1="296.5" x2="642.3" y2="338.7" stroke="#333" stroke-width="0.8" stroke-dasharray="11 2"/>
<path d="M601,314.3 Q610,321.6 622.4,325.6 Q632,328.6 642.3,329.8" stroke="#222" stroke-width="0.9" fill="none" />
<path d="M601,314.3 l3.6,1.2 M642.3,329.8 l-4,-1.4 M642.3,329.8 l-4,1" stroke="#222" stroke-width="0.7" fill="none" />
<text x="599.0" y="324.4" font-size="8.8" textLength="9.4" lengthAdjust="spacingAndGlyphs" fill="#1c1c1c" stroke="#1c1c1c" stroke-width="0.28" >2O</text>
<text x="599.0" y="336.0" font-size="8.8" textLength="15.6" lengthAdjust="spacingAndGlyphs" fill="#1c1c1c" stroke="#1c1c1c" stroke-width="0.28" >DEG</text>
<text x="624.0" y="335.2" font-size="8.8" textLength="8.7" lengthAdjust="spacingAndGlyphs" fill="#1c1c1c" stroke="#1c1c1c" stroke-width="0.28" >19</text>
<text x="624.0" y="345.0" font-size="8.8" textLength="15.3" lengthAdjust="spacingAndGlyphs" fill="#1c1c1c" stroke="#1c1c1c" stroke-width="0.28" >DEG</text>
<line x1="620" y1="333" x2="617" y2="339" stroke="#222" stroke-width="0.7"/>
</g>
<g id="subplan">
<text x="255.0" y="256.6" font-size="8.8" textLength="36.0" lengthAdjust="spacingAndGlyphs" fill="#1c1c1c" stroke="#1c1c1c" stroke-width="0.28" >9-31/64</text>
<text x="251.0" y="273.1" font-size="8.8" textLength="37.0" lengthAdjust="spacingAndGlyphs" fill="#1c1c1c" stroke="#1c1c1c" stroke-width="0.28" >8-21/64</text>
<line x1="247.3" y1="259" x2="247.3" y2="388" stroke="#333" stroke-width="0.8" stroke-dasharray="9 2 2 2"/>
<line x1="247.3" y1="265" x2="326" y2="265" stroke="#333" stroke-width="0.8" stroke-dasharray="20 1.5"/>
<path d="M247.3,265 l4,-1.2 M247.3,265 l4,1.2 M326,265 l-4,-1.2 M326,265 l-4,1.2" stroke="#222" stroke-width="0.7" fill="none" />
<line x1="326" y1="258" x2="326" y2="330" stroke="#222" stroke-width="0.9"/>
<line x1="258" y1="279" x2="258" y2="311" stroke="#222" stroke-width="0.9"/>
<line x1="258" y1="280" x2="263.5" y2="280" stroke="#222" stroke-width="1.0"/>
<line x1="268" y1="280" x2="300" y2="280" stroke="#aaa" stroke-width="0.6" stroke-dasharray="1.2 2.4"/>
<line x1="302" y1="280" x2="326" y2="280" stroke="#222" stroke-width="0.9"/>
<path d="M326,280 l-4,-1.2 M326,280 l-4,1.2 M258,280 l4,-1.2 M258,280 l4,1.2" stroke="#222" stroke-width="0.7" fill="none" />
<line x1="135" y1="343.8" x2="247" y2="343.8" stroke="#444" stroke-width="0.7"/>
<line x1="247" y1="343.8" x2="345" y2="343.8" stroke="#888" stroke-width="0.6" stroke-dasharray="8 2 2 2"/>
<path d="M258,302.5 L200,302.5 Q170,304 154,322 Q142.5,335 142.5,344 Q142.5,356 155,368 Q170,379 196,379.2 L275,379.2" stroke="#222" stroke-width="1.0" fill="none" />
<path d="M258,310 L200,310 Q172,311 159,326 Q149.3,337 149.3,344 Q149.3,353 160,364 Q172,372.6 198,372.6 L270,372.6" stroke="#222" stroke-width="1.0" fill="none" />
<path d="M258,302.5 L320,331 L330,331 L330,335 L321.5,335" stroke="#222" stroke-width="1.0" fill="none" />
<path d="M258,310 L315.5,336.5" stroke="#222" stroke-width="1.0" fill="none" />
<path d="M270,372.6 L315.5,350.4" stroke="#222" stroke-width="1.0" fill="none" />
<path d="M275,379.2 L320,356.6 L330,356.6 L330,352.6 L321.5,352.6" stroke="#222" stroke-width="1.0" fill="none" />
<line x1="316" y1="334" x2="316" y2="352.6" stroke="#222" stroke-width="1.0"/>
<line x1="321.3" y1="331" x2="321.3" y2="356.6" stroke="#222" stroke-width="1.0"/>
<line x1="318.6" y1="336" x2="318.6" y2="351" stroke="#888" stroke-width="0.6"/>
<path d="M258,302.5 L286,302.5 Q292,303 296,308 Q299,312 303,312.6 L308,312.6 L308,317 L301,317 Q297,317 294,313 L288.6,308" stroke="#222" stroke-width="0.9" fill="none" />
<path d="M283,375.4 L290,372 L297,371.4 L297,374.4 L307.6,374.4 L307.6,371.6" stroke="#222" stroke-width="0.9" fill="none" />
<path d="M292,371.6 Q293,368.6 296,369.6" stroke="#222" stroke-width="0.8" fill="none" />
<path d="M207.5,302.5 L209.5,298.4 Q210,297.4 212,297.4 L221,297.4 Q223,297.4 223.4,298.6 L224.6,302.5" stroke="#222" stroke-width="0.9" fill="none" />
<path d="M226,302.5 Q226.4,299.4 228.6,299.4 Q231,299.4 231.2,302.5" stroke="#222" stroke-width="0.8" fill="none" />
<line x1="210" y1="371.2" x2="226.5" y2="371.2" stroke="#333" stroke-width="1.6"/>
<line x1="211" y1="379.6" x2="225" y2="379.6" stroke="#333" stroke-width="1.6"/>
<line x1="210" y1="370.6" x2="226.5" y2="370.6" stroke="#222" stroke-width="0.6"/>
<path d="M153.8,326.3 L158.8,321.3 L165,328.8 L160,333.8 Z" stroke="#222" stroke-width="0.9" fill="none" />
<path d="M153.8,361.7 L158.8,366.7 L165,359.2 L160,354.2 Z" stroke="#222" stroke-width="0.9" fill="none" />
<circle cx="161.6" cy="330.2" r="1.3" stroke="#222" stroke-width="0.7" fill="none"/>
<circle cx="161.6" cy="357.8" r="1.3" stroke="#222" stroke-width="0.7" fill="none"/>
<line x1="161.6" y1="327.5" x2="161.6" y2="333.5" stroke="#555" stroke-width="0.6"/>
<line x1="161.6" y1="354.5" x2="161.6" y2="360.5" stroke="#555" stroke-width="0.6"/>
<line x1="179.5" y1="331" x2="179.5" y2="357" stroke="#222" stroke-width="0.9"/>
<line x1="165" y1="331" x2="190" y2="331" stroke="#222" stroke-width="0.8"/>
<line x1="165" y1="357" x2="190" y2="357" stroke="#222" stroke-width="0.8"/>
<line x1="181" y1="343.8" x2="215" y2="343.8" stroke="#222" stroke-width="0.8"/>
<text x="181.0" y="339.6" font-size="8.8" textLength="25.0" lengthAdjust="spacingAndGlyphs" fill="#1c1c1c" stroke="#1c1c1c" stroke-width="0.28" >1-5/8</text>
<text x="183.0" y="352.1" font-size="8.8" textLength="25.0" lengthAdjust="spacingAndGlyphs" fill="#1c1c1c" stroke="#1c1c1c" stroke-width="0.28" >1-5/8</text>
<text x="202.0" y="321.6" font-size="8.8" textLength="32.0" lengthAdjust="spacingAndGlyphs" fill="#1c1c1c" stroke="#1c1c1c" stroke-width="0.28" >6&quot; RAD</text>
<text x="272.0" y="357.1" font-size="8.8" textLength="30.5" lengthAdjust="spacingAndGlyphs" fill="#1c1c1c" stroke="#1c1c1c" stroke-width="0.28" >6&quot; RAD</text>
<line x1="257" y1="311" x2="257" y2="371.6" stroke="#222" stroke-width="1.0"/>
<line x1="265" y1="315" x2="265" y2="369" stroke="#222" stroke-width="1.0"/>
<line x1="252.5" y1="311" x2="246.2" y2="350" stroke="#222" stroke-width="0.8"/>
<line x1="257.4" y1="311" x2="270" y2="371" stroke="#222" stroke-width="0.8"/>
<line x1="258" y1="316" x2="264" y2="316" stroke="#222" stroke-width="0.7"/>
<line x1="258" y1="322" x2="264" y2="322" stroke="#222" stroke-width="0.7"/>
<line x1="239" y1="358" x2="252.5" y2="358" stroke="#222" stroke-width="0.9"/>
<text x="258.4" y="321.5" font-size="7.4" textLength="4.8" lengthAdjust="spacingAndGlyphs" fill="#1c1c1c" stroke="#1c1c1c" stroke-width="0.28" >O</text>
<text x="258.4" y="346.2" font-size="7.4" textLength="4.8" lengthAdjust="spacingAndGlyphs" fill="#1c1c1c" stroke="#1c1c1c" stroke-width="0.28" >O</text>
<text x="258.4" y="368.2" font-size="7.4" textLength="4.8" lengthAdjust="spacingAndGlyphs" fill="#1c1c1c" stroke="#1c1c1c" stroke-width="0.28" >O</text>
<circle cx="265" cy="347" r="0.7" stroke="#333" stroke-width="0.5" fill="#333"/>
<line x1="336" y1="334" x2="336" y2="351.6" stroke="#333" stroke-width="0.8" stroke-dasharray="5 1.5"/>
<line x1="328" y1="334.6" x2="340" y2="334.6" stroke="#222" stroke-width="0.8"/>
<line x1="328" y1="343.2" x2="341" y2="343.2" stroke="#222" stroke-width="0.8"/>
<line x1="328" y1="351.6" x2="340" y2="351.6" stroke="#222" stroke-width="0.8"/>
<text x="344.0" y="340.6" font-size="8.8" textLength="8.0" lengthAdjust="spacingAndGlyphs" fill="#1c1c1c" stroke="#1c1c1c" stroke-width="0.28" >1&quot;</text>
<text x="344.0" y="350.6" font-size="8.8" textLength="8.0" lengthAdjust="spacingAndGlyphs" fill="#1c1c1c" stroke="#1c1c1c" stroke-width="0.28" >1&quot;</text>
</g>
<g id="mainplan">
<line x1="367" y1="353.2" x2="536" y2="353.2" stroke="#333" stroke-width="0.8"/>
<line x1="565" y1="353.2" x2="590" y2="353.2" stroke="#444" stroke-width="0.7"/>
<path d="M349.3,318.4 L353.6,316.6 L357.5,316.4 L362.3,314.4 L379.5,314.4 M389.6,314.6 L408,315.2 M427,316.6 L474.6,320.7 M483.2,321 L502,321.6 Q512,322.4 519,328 Q528,335.5 535.5,346.4" stroke="#222" stroke-width="1.0" fill="none" />
<path d="M349.3,318.4 L353.6,320.2 L357.5,320.6 L362.3,323 L379.5,323.4 M389.6,324 L408,324.6 M427,325.2 L474.6,327.2 M483.2,327.6 L506,328.6 Q515,330 521,337 Q527,344 531,350" stroke="#222" stroke-width="1.0" fill="none" />
<line x1="345" y1="318.4" x2="349.3" y2="318.4" stroke="#888" stroke-width="0.6"/>
<line x1="357.5" y1="316.4" x2="357.5" y2="320.6" stroke="#222" stroke-width="0.8"/>
<line x1="362.3" y1="314.4" x2="362.3" y2="323" stroke="#222" stroke-width="0.8"/>
<line x1="364" y1="318.7" x2="378" y2="318.9" stroke="#666" stroke-width="0.7" stroke-dasharray="8 3"/>
<line x1="430" y1="321" x2="470" y2="323.6" stroke="#666" stroke-width="0.7" stroke-dasharray="10 3"/>
<line x1="486" y1="324.6" x2="510" y2="325.4" stroke="#666" stroke-width="0.7" stroke-dasharray="8 3"/>
<path d="M379.5,324.5 L379.5,312 Q380,309.4 383,308.6 L388,307.4 Q391.4,307.4 390.6,310 L389.6,313.4 L389.6,324.5 Q384,326.4 379.5,324.5 Z" stroke="#222" stroke-width="0.9" fill="#fff" />
<circle cx="384.8" cy="310.6" r="1.1" stroke="#222" stroke-width="0.7" fill="none"/>
<rect x="474.6" y="319.4" width="8.6" height="9.4" stroke="#222" stroke-width="0.9" fill="#fff"/>
<line x1="474.6" y1="322.2" x2="483.2" y2="322.2" stroke="#222" stroke-width="0.8"/>
<line x1="474.6" y1="326" x2="483.2" y2="326" stroke="#222" stroke-width="0.7"/>
<path d="M353.6,377.4 L357,375.6 L362,374.8 L364.4,372.6 L402,372.6 M428.5,372.4 L474.6,371 M483.2,370.8 L500,370.4 Q512,369.6 521,364 Q528,360 534,357" stroke="#222" stroke-width="1.0" fill="none" />
<path d="M353.6,377.4 L357,379 L362,379.6 L364.4,381.2 L402,381.2 M428.5,380.6 L474.6,378 M483.2,377.8 L504,377.4 Q515,376.4 524,370 Q530,365 535.5,360" stroke="#222" stroke-width="1.0" fill="none" />
<line x1="346" y1="377.4" x2="353.6" y2="377.4" stroke="#888" stroke-width="0.6"/>
<line x1="364.4" y1="372.6" x2="364.4" y2="381.2" stroke="#222" stroke-width="0.8"/>
<line x1="368" y1="377" x2="398" y2="377" stroke="#666" stroke-width="0.7" stroke-dasharray="9 3"/>
<line x1="432" y1="376.4" x2="470" y2="374.6" stroke="#666" stroke-width="0.7" stroke-dasharray="10 3"/>
<rect x="474.6" y="369.4" width="8.6" height="9.4" stroke="#222" stroke-width="0.9" fill="#fff"/>
<line x1="474.6" y1="372.4" x2="483.2" y2="372.4" stroke="#222" stroke-width="0.8"/>
<line x1="474.6" y1="376" x2="483.2" y2="376" stroke="#222" stroke-width="0.7"/>
<path d="M402,372.6 L402,381.6 L410.5,381.6 M410.5,371 L428.5,371 L428.5,381.8 L410.5,381.8 Z" stroke="#222" stroke-width="0.9" fill="none" />
<line x1="414" y1="376.4" x2="426" y2="376.4" stroke="#555" stroke-width="0.7" stroke-dasharray="5 2"/>
<line x1="419.6" y1="366" x2="419.6" y2="387" stroke="#555" stroke-width="0.7" stroke-dasharray="5 2"/>
<rect x="451" y="381" width="7" height="5.4" stroke="#222" stroke-width="0.9" fill="none"/>
<line x1="454.5" y1="378" x2="454.5" y2="381" stroke="#222" stroke-width="0.8"/>
<line x1="389.4" y1="324.5" x2="389.4" y2="372.6" stroke="#222" stroke-width="0.9"/>
<line x1="392.2" y1="324.5" x2="392.2" y2="372.6" stroke="#444" stroke-width="0.8"/>
<line x1="399.6" y1="324.5" x2="399.6" y2="372.6" stroke="#222" stroke-width="0.9"/>
<path d="M408.3,313 L427,313 L427,326 L408.3,326 Z" stroke="#222" stroke-width="0.9" fill="none" />
<path d="M414.8,313 L414.8,306.6 L420.5,306.6 L420.5,313" stroke="#222" stroke-width="0.9" fill="none" />
<path d="M410.5,314.5 L413,325 M413,314.5 L417,325 M420,314 L424.6,325 M416.5,314.6 L419.5,320" stroke="#333" stroke-width="0.7" fill="none" />
<line x1="404" y1="313.6" x2="408.3" y2="313.6" stroke="#222" stroke-width="1.2"/>
<path d="M412,326 L412,330.6 L410,332.4 L411,334.4 M427,326 L427,339 L424.9,341 L424.9,347" stroke="#222" stroke-width="0.9" fill="none" />
<line x1="419" y1="326" x2="419" y2="346" stroke="#555" stroke-width="0.7" stroke-dasharray="4 2"/>
<path d="M411,334.4 L400.5,334.4 L400.5,368.6 L412.4,368.6 L412.4,360.4 L414,358.6 M411,334.4 Q413.6,335.4 413.6,338.4 L413.6,343 L415.2,345.4 L414,347.6" stroke="#222" stroke-width="0.9" fill="none" />
<line x1="402" y1="341" x2="412" y2="341" stroke="#666" stroke-width="0.6" stroke-dasharray="2 2"/>
<line x1="402" y1="362.6" x2="411" y2="362.6" stroke="#666" stroke-width="0.6" stroke-dasharray="2 2"/>
<line x1="405" y1="336" x2="405" y2="367" stroke="#777" stroke-width="0.6" stroke-dasharray="2 2"/>
<line x1="409.6" y1="338" x2="409.6" y2="350" stroke="#777" stroke-width="0.6" stroke-dasharray="2 2"/>
<circle cx="419" cy="352.8" r="6.6" stroke="#222" stroke-width="1.1" fill="none"/>
<path d="M413.6,348.6 Q411,352.8 413.6,357 M424.4,348.6 Q427,352.8 424.4,357" stroke="#444" stroke-width="0.7" fill="none" />
<path d="M416,346.6 L418,343.4 L422,343.4 L423,346.8" stroke="#222" stroke-width="0.8" fill="none" />
<path d="M427,343 L432,343 L432,345.4 L425.4,345.4 M425.4,355.4 L432,355.4 L432,357.6 L427,357.6" stroke="#222" stroke-width="0.8" fill="none" />
<path d="M405,354 Q404,358 406,359.6 Q408,359.6 408,357" stroke="#222" stroke-width="0.8" fill="none" />
<circle cx="406.4" cy="358" r="1" stroke="#333" stroke-width="0.6" fill="#555"/>
<path d="M424.9,360 L424.9,371" stroke="#222" stroke-width="0.9" fill="none" />
<line x1="422" y1="326" x2="422" y2="371" stroke="#666" stroke-width="0.6" stroke-dasharray="3 2"/>
<text x="395.0" y="353.6" font-size="4.6" textLength="3.0" lengthAdjust="spacingAndGlyphs" fill="#555" stroke="#555" stroke-width="0.28" >s</text>
<path d="M536,346.2 L559,346.2 M536,360 L559,360" stroke="#222" stroke-width="1.1" fill="none" />
<path d="M536,346.2 Q533,353 536,360" stroke="#222" stroke-width="1.0" fill="none" />
<ellipse cx="559.6" cy="353.1" rx="4.6" ry="6.9" stroke="#222" stroke-width="1.1" fill="#fff"/>
<ellipse cx="559.6" cy="353.1" rx="3.2" ry="5.4" stroke="#444" stroke-width="0.6" fill="none"/>
<path d="M527,340.4 Q530,338.8 533,341 L536,346.4 M529,343 Q531,346.6 534.5,349" stroke="#222" stroke-width="0.8" fill="none" />
<path d="M527.6,359 L533.6,358 M530,363.6 Q533,364.6 536,360" stroke="#222" stroke-width="0.8" fill="none" />
<line x1="519" y1="326" x2="590" y2="326" stroke="#222" stroke-width="0.9"/>
<line x1="519" y1="374" x2="590" y2="374" stroke="#333" stroke-width="0.8" stroke-dasharray="14 2.5"/>
<line x1="519" y1="322" x2="519" y2="331" stroke="#222" stroke-width="0.9"/>
<line x1="519" y1="370" x2="519" y2="378" stroke="#222" stroke-width="0.9"/>
<line x1="557.5" y1="326" x2="557.5" y2="339.6" stroke="#333" stroke-width="0.8" stroke-dasharray="5 1.5"/>
<line x1="581.4" y1="326" x2="581.4" y2="343" stroke="#333" stroke-width="0.8" stroke-dasharray="6 2"/>
<line x1="581.4" y1="347" x2="581.4" y2="374" stroke="#333" stroke-width="0.8" stroke-dasharray="6 2"/>
<line x1="578" y1="352.6" x2="584" y2="352.6" stroke="#222" stroke-width="0.8"/>
<path d="M554,316 Q557.6,321 557.5,326" stroke="#222" stroke-width="0.8" fill="none" />
<path d="M554,384 Q558.6,374 559,362.5" stroke="#222" stroke-width="0.8" fill="none" />
<text x="542.0" y="312.1" font-size="8.8" textLength="48.0" lengthAdjust="spacingAndGlyphs" fill="#1c1c1c" stroke="#1c1c1c" stroke-width="0.28" >2-1/2 DEG</text>
<text x="562.5" y="341.6" font-size="8.8" textLength="26.5" lengthAdjust="spacingAndGlyphs" fill="#1c1c1c" stroke="#1c1c1c" stroke-width="0.28" >3-1/4</text>
<text x="565.0" y="364.6" font-size="8.8" textLength="37.0" lengthAdjust="spacingAndGlyphs" fill="#1c1c1c" stroke="#1c1c1c" stroke-width="0.28" >2-19/32</text>
<text x="534.0" y="390.6" font-size="8.8" textLength="26.0" lengthAdjust="spacingAndGlyphs" fill="#1c1c1c" stroke="#1c1c1c" stroke-width="0.28" >1 DEG</text>
<line x1="467.4" y1="329.5" x2="467.4" y2="341" stroke="#222" stroke-width="0.9" stroke-dasharray="6 2"/>
<line x1="467.4" y1="354" x2="467.4" y2="370.4" stroke="#222" stroke-width="0.9" stroke-dasharray="6 2"/>
<line x1="488.7" y1="328.8" x2="488.7" y2="334" stroke="#222" stroke-width="0.9"/>
<line x1="488.7" y1="347.5" x2="488.7" y2="353" stroke="#222" stroke-width="0.9"/>
<text x="445.0" y="349.8" font-size="8.8" textLength="30.3" lengthAdjust="spacingAndGlyphs" fill="#1c1c1c" stroke="#1c1c1c" stroke-width="0.28" >5.O54&quot;</text>
<text x="484.7" y="344.0" font-size="8.8" textLength="30.3" lengthAdjust="spacingAndGlyphs" fill="#1c1c1c" stroke="#1c1c1c" stroke-width="0.28" >2.861&quot;</text>
<text x="333.0" y="404.0" font-size="8.8" textLength="69.4" lengthAdjust="spacingAndGlyphs" fill="#1c1c1c" stroke="#1c1c1c" stroke-width="0.12" font-weight="bold" >BOSS FACES TO</text>
<text x="333.0" y="414.6" font-size="8.8" textLength="58.6" lengthAdjust="spacingAndGlyphs" fill="#1c1c1c" stroke="#1c1c1c" stroke-width="0.12" font-weight="bold" >BE VERTICAL</text>
<text x="415.6" y="402.6" font-size="8.8" textLength="18.4" lengthAdjust="spacingAndGlyphs" fill="#1c1c1c" stroke="#1c1c1c" stroke-width="0.28" >.673</text>
<text x="415.6" y="413.2" font-size="8.8" textLength="18.4" lengthAdjust="spacingAndGlyphs" fill="#1c1c1c" stroke="#1c1c1c" stroke-width="0.28" >.873</text>
<line x1="355" y1="379" x2="361" y2="394" stroke="#222" stroke-width="0.8"/>
<line x1="402" y1="382" x2="402" y2="394" stroke="#333" stroke-width="0.8" stroke-dasharray="5 1.5"/>
<line x1="397" y1="394" x2="402" y2="394" stroke="#222" stroke-width="1.0"/>
<line x1="409.6" y1="382" x2="409.6" y2="394" stroke="#333" stroke-width="0.8" stroke-dasharray="5 1.5"/>
<line x1="409.6" y1="392.4" x2="429" y2="392.4" stroke="#222" stroke-width="0.9"/>
</g>
<g id="logo">
<text x="479.2" y="451" font-size="27.6" fill="#909090" stroke="#909090" stroke-width="0.85" textLength="189.6" lengthAdjust="spacingAndGlyphs" style="font-family:'Liberation Serif',serif">Sheldon's Emu</text>
<path d="M672.5,422.2 Q670.5,422.4 669.6,424.1 L671.4,424.8 Q670.6,428 669.8,432.3 Q669.4,436 670.5,438.5 Q672,441.5 674.4,442.6 Q677,443.8 680.4,444 L681,444.2 L678.6,454.6 L673,455.8 L673,456.7 L680.4,456.7 L683.2,445 L684,444.6 L684.4,455 L680.6,455.8 L680.6,456.9 L686.6,456.9 L686.4,444.4 Q689,444.4 691.6,443.8 Q693.6,444 694.2,442.6 Q694,438.6 692.4,436.8 Q690,433.6 686,432.6 Q682,431.8 679,433 Q676.4,434.4 675.6,432 Q674.6,429 675.4,426 Q675.8,423.6 674.8,422.8 Q673.8,422 672.5,422.2 Z" fill="#a9a9a9" stroke="none"/>
</g>
</g>
</svg>
</body></html>
